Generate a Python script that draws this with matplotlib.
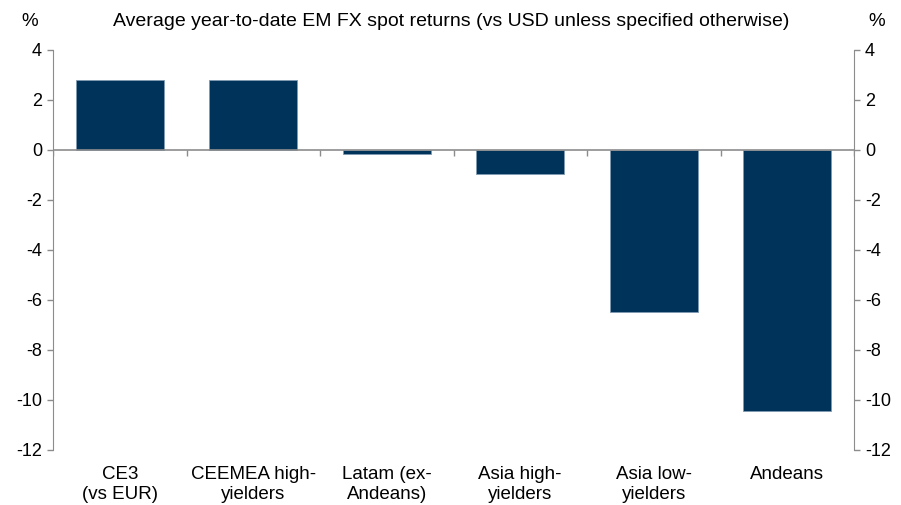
import numpy as np
import matplotlib.pyplot as plt

categories = ["CE3\n(vs EUR)", "CEEMEA high-\nyielders", "Latam (ex-\nAndeans)",
              "Asia high-\nyielders", "Asia low-\nyielders", "Andeans"]
returns = [2.8, 2.8, -0.15, -0.97, -6.47, -10.45]
yticks = [4, 2, 0, -2, -4, -6, -8, -10, -12]

plt.rcParams['font.family'] = ['Liberation Sans', 'DejaVu Sans']

fig = plt.figure(figsize=(9.01, 5.05), dpi=100)
ax = fig.add_axes([53/901, 55/505, 801/901, 400/505])

x = np.arange(len(categories))
ax.bar(x, returns, width=0.66, color="#003359", edgecolor="#7f9ab3", linewidth=0.6, zorder=2)

ax.set_xlim(-0.5, len(categories) - 0.5)
ax.set_ylim(-12, 4)
ax.set_yticks(yticks)
ax.set_yticklabels([str(t) for t in yticks], fontsize=13)

grey = "#8c8c8c"
for s in ["top", "bottom"]:
    ax.spines[s].set_visible(False)
ax.spines["left"].set_color(grey)
ax.spines["right"].set_color(grey)
ax.tick_params(axis="y", direction="out", color=grey, length=4, width=1, pad=4,
               left=True, right=True, labelleft=True, labelright=True)

# zero line and short ticks between categories
ax.axhline(0, color=grey, linewidth=1.2, zorder=3)
ax.set_xticks([])
ax.vlines(np.arange(len(categories) + 1) - 0.5, -0.22, 0, color=grey, linewidth=1, zorder=3)

for i, lab in enumerate(categories):
    ax.text(i, -12.65, lab, ha="center", va="top", fontsize=13.5, linespacing=1.2)

fig.text(451/901, 1 - 21/505, "Average year-to-date EM FX spot returns (vs USD unless specified otherwise)",
         ha="center", va="center", fontsize=14)
fig.text(30/901, 1 - 21/505, "%", ha="center", va="center", fontsize=13.5)
fig.text(877/901, 1 - 21/505, "%", ha="center", va="center", fontsize=13.5)

fig.savefig("out.png", dpi=100)
